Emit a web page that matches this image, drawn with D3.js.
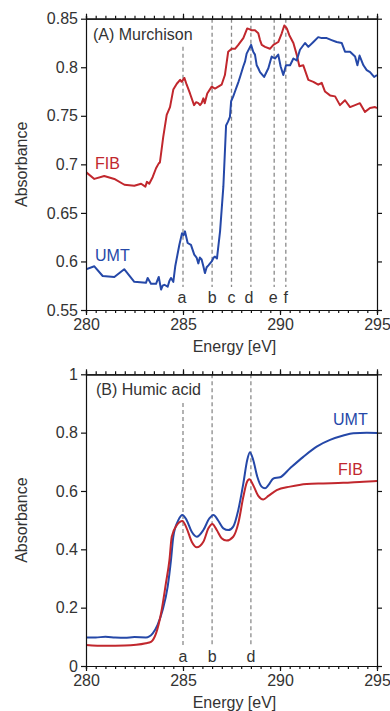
<!DOCTYPE html>
<html>
<head>
<meta charset="utf-8">
<script src="https://cdn.jsdelivr.net/npm/d3@7"></script>
<style>
  body { margin: 0; background: #fff; }
  svg text { font-family: "Liberation Sans", Arial, sans-serif; }
</style>
</head>
<body>
<script>
// (A) Murchison - FIB
var murFibE = [280.0, 280.43, 280.94, 281.46, 281.98, 282.49, 282.84, 283.06, 283.14, 283.26, 283.44, 283.61, 283.75, 283.81, 283.98,
  284.16, 284.33, 284.5, 284.68, 284.85, 284.93, 285.07, 285.19, 285.36, 285.57, 285.68, 285.79, 285.88, 285.96, 286.05, 286.12, 286.25,
  286.48, 286.65, 286.99, 287.16, 287.33, 287.51, 287.68, 287.85, 288.11, 288.31, 288.45, 288.54, 288.71, 288.88, 288.97, 289.06, 289.23,
  289.48, 289.66, 289.91, 290.09, 290.22, 290.35, 290.48, 290.69, 290.86, 291.0, 291.2, 291.46, 291.72, 291.97, 292.15, 292.32, 292.58,
  292.84, 293.09, 293.35, 293.61, 293.87, 294.12, 294.38, 294.64, 294.9, 295.0];
var murFibA = [0.692, 0.685, 0.688, 0.685, 0.679, 0.678, 0.680, 0.677, 0.682, 0.680, 0.687, 0.696, 0.701, 0.702, 0.728,
  0.751, 0.759, 0.777, 0.783, 0.787, 0.785, 0.789, 0.782, 0.773, 0.761, 0.764, 0.763, 0.761, 0.763, 0.768, 0.763, 0.773,
  0.780, 0.778, 0.782, 0.792, 0.816, 0.819, 0.819, 0.823, 0.830, 0.840, 0.839, 0.838, 0.838, 0.835, 0.828, 0.823, 0.821,
  0.819, 0.823, 0.826, 0.835, 0.843, 0.840, 0.833, 0.825, 0.813, 0.801, 0.802, 0.787, 0.785, 0.782, 0.784, 0.775, 0.771,
  0.770, 0.761, 0.766, 0.759, 0.761, 0.763, 0.754, 0.758, 0.759, 0.758];

// (A) Murchison - UMT
var murUmtE = [280.0, 280.43, 280.86, 281.46, 281.97, 282.49, 283.09, 283.18, 283.35, 283.61, 283.75, 283.87, 283.95, 284.04, 284.21,
  284.3, 284.38, 284.5, 284.6, 284.81, 284.95, 285.03, 285.1, 285.24, 285.41, 285.58, 285.7, 285.79, 285.87, 285.96, 286.05, 286.13,
  286.22, 286.31, 286.48, 286.58, 286.65, 286.75, 286.91, 287.08, 287.22, 287.32, 287.42, 287.48, 287.59, 287.68, 287.77, 287.86,
  287.94, 288.11, 288.2, 288.28, 288.51, 288.62, 288.71, 288.8, 288.88, 288.97, 289.18, 289.4, 289.57, 289.74, 289.91, 290.03, 290.17,
  290.31, 290.52, 290.69, 290.86, 291.03, 291.29, 291.46, 291.72, 291.97, 292.15, 292.41, 292.66, 292.92, 293.18, 293.35, 293.61,
  293.87, 293.99, 294.1, 294.3, 294.47, 294.64, 294.85, 295.0];
var murUmtA = [0.592, 0.595, 0.585, 0.584, 0.592, 0.579, 0.578, 0.583, 0.577, 0.577, 0.584, 0.571, 0.575, 0.576, 0.574,
  0.580, 0.583, 0.579, 0.595, 0.617, 0.629, 0.627, 0.631, 0.619, 0.617, 0.607, 0.604, 0.598, 0.604, 0.602, 0.595, 0.588,
  0.594, 0.596, 0.600, 0.604, 0.605, 0.603, 0.631, 0.677, 0.740, 0.744, 0.749, 0.765, 0.770, 0.775, 0.780, 0.785,
  0.790, 0.801, 0.806, 0.814, 0.823, 0.816, 0.813, 0.802, 0.799, 0.795, 0.790, 0.799, 0.811, 0.809, 0.813, 0.801, 0.792,
  0.802, 0.802, 0.809, 0.807, 0.818, 0.825, 0.821, 0.826, 0.831, 0.830, 0.830, 0.828, 0.826, 0.825, 0.816, 0.816,
  0.811, 0.802, 0.812, 0.802, 0.797, 0.795, 0.790, 0.792];

// (B) Humic acid - UMT
var humUmtE = [280, 280.5, 281, 281.5, 282, 282.5, 283.09, 283.44, 283.69, 283.95, 284.21, 284.38, 284.5, 284.76, 284.97, 285.19,
  285.45, 285.71, 286.05, 286.36, 286.57, 286.82, 287.08, 287.34, 287.59, 287.85, 288.11, 288.31, 288.45, 288.62, 288.83, 289.05,
  289.23, 289.4, 289.66, 290.0, 290.52, 291.2, 291.89, 292.58, 293.26, 293.78, 294.47, 295];
var humUmtA = [0.098, 0.098, 0.100, 0.098, 0.097, 0.099, 0.098, 0.112, 0.141, 0.192, 0.272, 0.363, 0.443, 0.500, 0.518, 0.500,
  0.460, 0.443, 0.466, 0.506, 0.518, 0.498, 0.472, 0.466, 0.478, 0.535, 0.626, 0.706, 0.733, 0.706, 0.649, 0.615,
  0.609, 0.620, 0.643, 0.647, 0.678, 0.717, 0.752, 0.775, 0.790, 0.798, 0.800, 0.799];

// (B) Humic acid - FIB
var humFibE = [280, 281, 282, 283.09, 283.35, 283.61, 283.87, 284.12, 284.3, 284.42, 284.68, 284.97, 285.19, 285.45, 285.71, 286.05,
  286.31, 286.51, 286.74, 286.99, 287.25, 287.59, 287.85, 288.11, 288.28, 288.42, 288.62, 288.88, 289.14, 289.4, 289.83, 290.52,
  291.38, 292.23, 293.26, 294.3, 295];
var humFibA = [0.072, 0.069, 0.070, 0.078, 0.083, 0.112, 0.181, 0.284, 0.363, 0.443, 0.483, 0.497, 0.472, 0.426, 0.407, 0.426,
  0.472, 0.487, 0.466, 0.438, 0.430, 0.443, 0.489, 0.580, 0.628, 0.640, 0.620, 0.583, 0.571, 0.583, 0.603, 0.615,
  0.624, 0.626, 0.628, 0.632, 0.634];

var peakNamesA = ["a", "b", "c", "d", "e", "f"];
var peakEnergiesA = [285.0, 286.5, 287.5, 288.5, 289.7, 290.3];
var peakNamesB = ["a", "b", "d"];
var peakEnergiesB = [285.0, 286.5, 288.5];

var yTicksA = [0.55, 0.6, 0.65, 0.7, 0.75, 0.8, 0.85];
var yTicksB = [0, 0.2, 0.4, 0.6, 0.8, 1];
var xTicks = [280, 285, 290, 295];

var red = "#c1272d";
var blue = "#2548a8";
var textColor = "#333";

var width = 390, height = 711;
var left = 86, right = 377;

var svg = d3.select("body").append("svg")
    .attr("width", width)
    .attr("height", height);

function zip(xs, ys) {
    return xs.map(function(x, i) { return { x: x, y: ys[i] }; });
}

function drawPanel(opt) {
    var xScale = d3.scaleLinear().domain([280, 295]).range([left, right]);
    var yScale = d3.scaleLinear().domain(opt.yDomain).range([opt.bottom, opt.top]);
    var g = svg.append("g");

    // dashed peak markers
    opt.peaks.forEach(function(e, i) {
        var y0 = i === 0 ? opt.firstDashTop : opt.top;
        g.append("line")
            .attr("x1", xScale(e)).attr("x2", xScale(e))
            .attr("y1", y0).attr("y2", opt.dashBottom)
            .attr("stroke", "#8a8a8a")
            .attr("stroke-width", 1.3)
            .attr("stroke-dasharray", "4,3");
        g.append("text")
            .attr("x", xScale(e) + (opt.letterShift[i] || 0))
            .attr("y", opt.letterY)
            .attr("text-anchor", "middle")
            .attr("font-size", 16)
            .attr("fill", textColor)
            .text(opt.peakNames[i]);
    });

    var clipId = "clip" + opt.id;
    svg.append("clipPath").attr("id", clipId)
        .append("rect")
        .attr("x", left).attr("y", opt.top)
        .attr("width", right - left).attr("height", opt.bottom - opt.top);

    var line = d3.line()
        .x(function(d) { return xScale(d.x); })
        .y(function(d) { return yScale(d.y); })
        .curve(opt.curve);

    opt.series.forEach(function(s) {
        g.append("path")
            .datum(zip(s.e, s.a))
            .attr("clip-path", "url(#" + clipId + ")")
            .attr("fill", "none")
            .attr("stroke", s.color)
            .attr("stroke-width", 2)
            .attr("stroke-linejoin", "round")
            .attr("d", line);
        g.append("text")
            .attr("x", s.lx).attr("y", s.ly)
            .attr("font-size", 16)
            .attr("fill", s.color)
            .text(s.name);
    });

    // axes
    var minor = d3.range(280, 295.01, 0.5);
    g.append("g")
        .attr("transform", "translate(0," + opt.bottom + ")")
        .call(d3.axisBottom(xScale).tickValues(minor).tickSize(3).tickFormat(""));
    g.append("g")
        .attr("transform", "translate(0," + opt.top + ")")
        .call(d3.axisTop(xScale).tickValues(minor).tickSize(3).tickFormat(""));
    g.append("g")
        .attr("class", "xlab")
        .attr("transform", "translate(0," + opt.bottom + ")")
        .call(d3.axisBottom(xScale).tickValues(xTicks).tickSize(5).tickSizeOuter(0).tickPadding(4).tickFormat(d3.format("d")));
    g.append("g")
        .attr("transform", "translate(0," + opt.top + ")")
        .call(d3.axisTop(xScale).tickValues(xTicks).tickSize(5).tickSizeOuter(0).tickFormat(""));
    g.append("g")
        .attr("class", "ylab")
        .attr("transform", "translate(" + left + ",0)")
        .call(d3.axisLeft(yScale).tickValues(opt.yTicks).tickSize(5).tickSizeOuter(0).tickPadding(3).tickFormat(function(d) { return String(d); }));
    g.append("g")
        .attr("transform", "translate(" + right + ",0)")
        .call(d3.axisRight(yScale).tickValues(opt.yTicks).tickSize(5).tickSizeOuter(0).tickFormat(""));

    g.selectAll(".domain, .tick line").attr("stroke", "#111").attr("stroke-width", 1.2);
    g.selectAll(".xlab text, .ylab text")
        .attr("font-size", 16)
        .attr("font-family", "Liberation Sans, Arial, sans-serif")
        .attr("fill", textColor);

    g.append("text")
        .attr("x", opt.titleX).attr("y", opt.titleY)
        .attr("font-size", 16)
        .attr("fill", textColor)
        .text(opt.title);

    g.append("text")
        .attr("x", (left + right) / 2 + 3)
        .attr("y", opt.bottom + 42)
        .attr("text-anchor", "middle")
        .attr("font-size", 16)
        .attr("fill", textColor)
        .text("Energy [eV]");

    g.append("text")
        .attr("transform", "translate(27," + ((opt.top + opt.bottom) / 2) + ") rotate(-90)")
        .attr("text-anchor", "middle")
        .attr("font-size", 16)
        .attr("fill", textColor)
        .text("Absorbance");
}

drawPanel({
    id: "A",
    top: 18.7, bottom: 310,
    yDomain: [0.55, 0.85], yTicks: yTicksA,
    curve: d3.curveLinear,
    peaks: peakEnergiesA, peakNames: peakNamesA, letterShift: [-1, 0, 0, -2, -1, 0],
    firstDashTop: 46.7, dashBottom: 287, letterY: 303,
    title: "(A) Murchison", titleX: 93, titleY: 40,
    series: [
        { name: "FIB", e: murFibE, a: murFibA, color: red, lx: 95, ly: 169 },
        { name: "UMT", e: murUmtE, a: murUmtA, color: blue, lx: 95, ly: 261 }
    ]
});

drawPanel({
    id: "B",
    top: 374.3, bottom: 666,
    yDomain: [0, 1], yTicks: yTicksB,
    curve: d3.curveMonotoneX,
    peaks: peakEnergiesB, peakNames: peakNamesB, letterShift: [0, 0, 0],
    firstDashTop: 403, dashBottom: 647, letterY: 662,
    title: "(B) Humic acid", titleX: 96, titleY: 395,
    series: [
        { name: "UMT", e: humUmtE, a: humUmtA, color: blue, lx: 333, ly: 425 },
        { name: "FIB", e: humFibE, a: humFibA, color: red, lx: 338, ly: 475 }
    ]
});
</script>
</body>
</html>
